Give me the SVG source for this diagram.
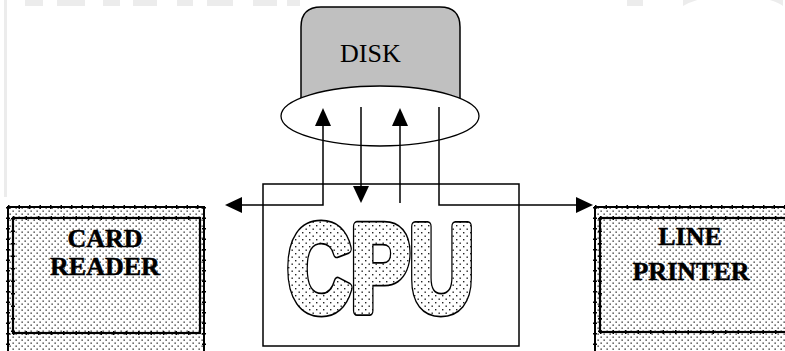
<svg xmlns="http://www.w3.org/2000/svg" width="785" height="351" viewBox="0 0 785 351">
<style>
.ln{stroke:#000;stroke-width:1.5;fill:none}
.ah{fill:#000}
.lbl{font-family:"Liberation Serif",serif;font-weight:bold;font-size:26px;text-anchor:middle;fill:#000;stroke:#000;stroke-width:0.5}
.wm{fill:#ececec}
.cpu{font-family:"Liberation Sans",Arial,sans-serif;font-weight:bold;font-size:122px;text-anchor:middle}
</style>
<defs>
<pattern id="dots" width="6" height="6" patternUnits="userSpaceOnUse">
<rect width="6" height="6" fill="#fff"/>
<rect x="0.5" y="0.5" width="1.3" height="1.3" fill="#222"/>
<rect x="3.5" y="3.5" width="1.3" height="1.3" fill="#222"/>
</pattern>
<pattern id="dots2" width="7" height="7" patternUnits="userSpaceOnUse">
<rect width="7" height="7" fill="#fff"/>
<rect x="1" y="1" width="1.4" height="1.4" fill="#222"/>
<rect x="4.5" y="4.5" width="1.4" height="1.4" fill="#222"/>
</pattern>
</defs>
<rect width="785" height="351" fill="#fff"/>
<g id="watermark">
<rect class="wm" x="4" y="0" width="3" height="197"/>
<rect class="wm" x="25" y="0" width="18" height="6"/>
<rect class="wm" x="57" y="0" width="28" height="6"/>
<rect class="wm" x="103" y="0" width="17" height="6"/>
<rect class="wm" x="133" y="0" width="24" height="6"/>
<rect class="wm" x="177" y="0" width="16" height="6"/>
<rect class="wm" x="207" y="0" width="26" height="6"/>
<rect class="wm" x="253" y="0" width="24" height="6"/>
<rect class="wm" x="287" y="0" width="13" height="6"/>
<rect class="wm" x="627" y="0" width="16" height="6"/>
<path class="wm" d="M683 6 Q700 -4 730 -4 Q770 -4 783 6 L783 0 L683 0 Z"/>
</g>
<g id="disk">
<path d="M301 116 L301 27 Q301 7 321 7 L440 7 Q460 7 460 27 L460 116 Z" fill="#c0c0c0" stroke="#000" stroke-width="1.5"/>
<text x="340" y="62" font-family="'Liberation Serif',serif" font-size="26" fill="#000">DISK</text>
<ellipse cx="380" cy="116" rx="99" ry="30" fill="#fff" stroke="#000" stroke-width="1.3"/>
</g>
<g id="cpu">
<rect x="263" y="184" width="256" height="162" fill="#fff" stroke="#000" stroke-width="1.5"/>
<text class="cpu" x="380.5" y="311" textLength="186" lengthAdjust="spacingAndGlyphs" fill="#000" stroke="#000" stroke-width="11" stroke-linejoin="round">CPU</text>
<text class="cpu" x="380.5" y="311" textLength="186" lengthAdjust="spacingAndGlyphs" fill="url(#dots2)" stroke="url(#dots2)" stroke-width="7.5" stroke-linejoin="round">CPU</text>
</g>
<g id="card-reader">
<rect x="8" y="207" width="196" height="150" fill="url(#dots)" stroke="#000" stroke-width="2"/>
<path d="M8 207 H204 M8 207 V351 M204 207 V351" stroke="#000" stroke-width="4" stroke-dasharray="1.5 9" fill="none"/>
<rect x="13" y="218" width="187" height="115" fill="url(#dots)" stroke="#000" stroke-width="2.2"/>
<path d="M13 218 H200 M13 333 H200 M13 218 V333" stroke="#000" stroke-width="4" stroke-dasharray="1.5 11" fill="none"/>
<text class="lbl" x="105" y="247">CARD</text>
<text class="lbl" x="105" y="275">READER</text>
</g>
<g id="line-printer">
<rect x="595" y="207" width="200" height="150" fill="url(#dots)" stroke="#000" stroke-width="2"/>
<path d="M595 207 H785 M595 207 V351" stroke="#000" stroke-width="4" stroke-dasharray="1.5 9" fill="none"/>
<rect x="600" y="218" width="200" height="114" fill="url(#dots)" stroke="#000" stroke-width="2.2"/>
<path d="M600 218 H785 M600 332 H785 M600 218 V332" stroke="#000" stroke-width="4" stroke-dasharray="1.5 11" fill="none"/>
<text class="lbl" x="690" y="245">LINE</text>
<text class="lbl" x="691" y="280">PRINTER</text>
</g>
<g id="connectors">
<path class="ln" d="M323 124 V205 H240"/>
<polygon class="ah" points="225,205 242,197 242,213"/>
<polygon class="ah" points="323,108 315,126 331,126"/>
<path class="ln" d="M361 107 V188"/>
<polygon class="ah" points="361,203 353,186 369,186"/>
<path class="ln" d="M400 124 V203"/>
<polygon class="ah" points="400,108 392,126 408,126"/>
<path class="ln" d="M439 107 V205 H578"/>
<polygon class="ah" points="593,205 576,197 576,213"/>
</g>
</svg>
